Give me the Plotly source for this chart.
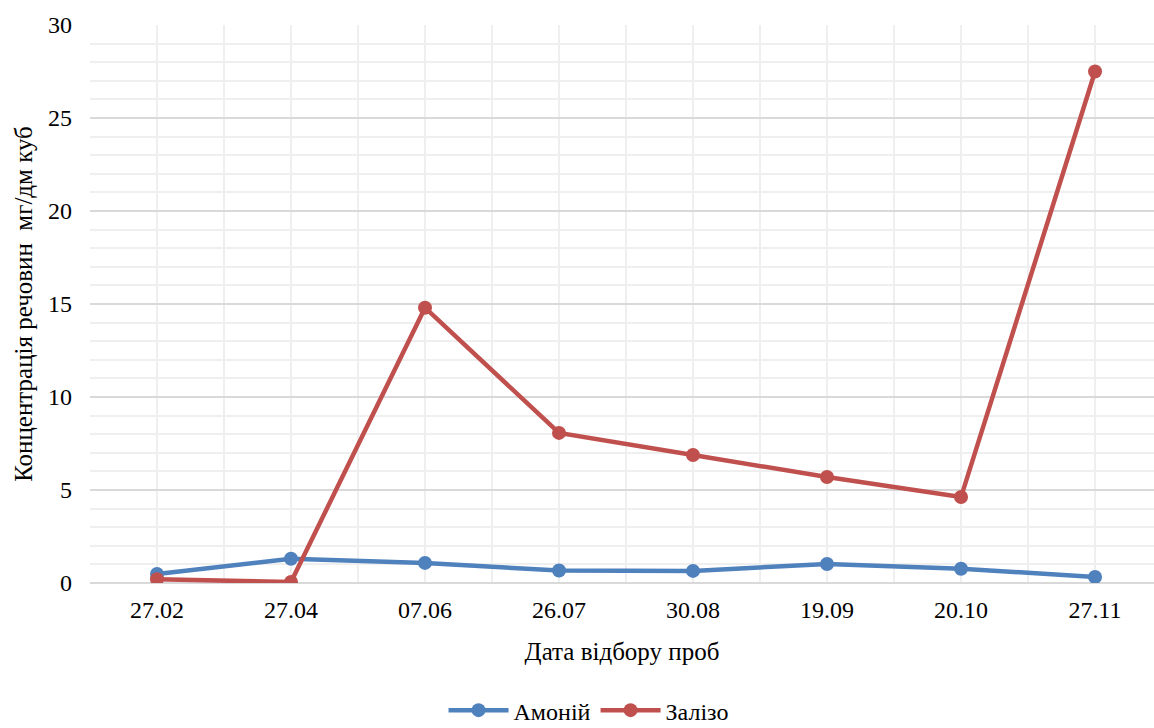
import plotly.graph_objects as go

dates = ["27.02", "27.04", "07.06", "26.07", "30.08", "19.09", "20.10", "27.11"]
ammonium = [0.48, 1.3, 1.08, 0.67, 0.65, 1.02, 0.77, 0.32]
iron = [0.2, 0.05, 14.8, 8.07, 6.88, 5.7, 4.62, 27.5]

xs = list(range(len(dates)))
FONT = "Liberation Serif"

fig = go.Figure()
fig.add_trace(go.Scatter(x=xs, y=ammonium, name="Амоній", mode="lines+markers",
                         line=dict(color="#4f81bd", width=4.5),
                         marker=dict(size=14, color="#4f81bd")))
fig.add_trace(go.Scatter(x=xs, y=iron, name="Залізо", mode="lines+markers",
                         line=dict(color="#c0504d", width=4.5),
                         marker=dict(size=14, color="#c0504d")))

fig.update_layout(
    width=1154, height=728,
    margin=dict(l=90, r=0, t=25, b=145),
    paper_bgcolor="white", plot_bgcolor="white",
    font=dict(family=FONT, size=24, color="#000000"),
    showlegend=True,
    legend=dict(orientation="h", xref="container", yref="container",
                x=0.51, xanchor="center", y=0.024, yanchor="middle",
                font=dict(family=FONT, size=24), itemwidth=60),
    xaxis=dict(range=[-0.5, 7.44], tickmode="array", tickvals=xs, ticktext=dates,
               showgrid=True, gridcolor="#efefef", gridwidth=1.5,
               minor=dict(tick0=-0.5, dtick=1, showgrid=True, gridcolor="#efefef", gridwidth=1.5),
               zeroline=False, showline=False, ticks="", ticklabelstandoff=10,
               tickfont=dict(family=FONT, size=24),
               title=dict(text="Дата відбору проб", font=dict(family=FONT, size=25), standoff=20)),
    yaxis=dict(range=[0, 30], tickmode="linear", tick0=0, dtick=5,
               showgrid=True, gridcolor="#d9d9d9", gridwidth=1.5,
               minor=dict(dtick=1, showgrid=True, gridcolor="#efefef", gridwidth=1.5),
               zeroline=True, zerolinecolor="#d9d9d9", zerolinewidth=1.5,
               showline=False, ticks="", ticklabelstandoff=17,
               tickfont=dict(family=FONT, size=24),
               title=dict(text="Концентрація речовин  мг/дм куб", font=dict(family=FONT, size=25), standoff=8)),
)

fig.write_html("out.html")
